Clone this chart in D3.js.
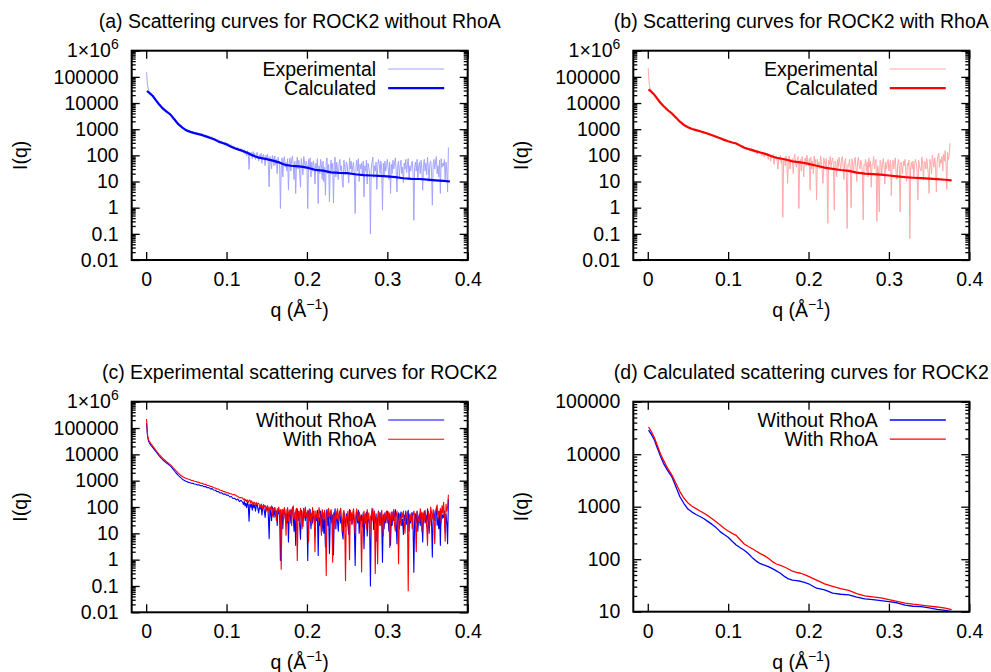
<!DOCTYPE html>
<html>
<head>
<meta charset="utf-8">
<script src="https://cdn.jsdelivr.net/npm/d3@7"></script>
<style>
  body { margin: 0; background: #fff; }
  svg text { font-family: "Liberation Sans", Arial, Helvetica, sans-serif; fill: #000; }
</style>
</head>
<body>
<svg id="chart" width="991" height="672"></svg>
<script>
// ---------------------------------------------------------------------------
// Data

// q grid of the measured curves (1/Angstrom)
const qExp = [
  0.0005, 0.0010, 0.0015, 0.0020, 0.0030, 0.0040, 0.0060, 0.0080, 0.0100, 0.0130,
  0.0160, 0.0190, 0.0220, 0.0250, 0.0280, 0.0310, 0.0340, 0.0370, 0.0400, 0.0430,
  0.0460,
  0.050, 0.052, 0.054, 0.056, 0.058, 0.060, 0.062, 0.064, 0.066, 0.068,
  0.070, 0.072, 0.074, 0.076, 0.078, 0.080, 0.082, 0.084, 0.086, 0.088,
  0.090, 0.092, 0.094, 0.096, 0.098, 0.100, 0.102, 0.104, 0.106, 0.108,
  0.110, 0.112, 0.114, 0.116, 0.118,
  0.120, 0.121, 0.122, 0.123, 0.124, 0.125, 0.126, 0.127, 0.128, 0.129,
  0.130, 0.131, 0.132, 0.133, 0.134, 0.135, 0.136, 0.137, 0.138, 0.139,
  0.140, 0.141, 0.142, 0.143, 0.144, 0.145, 0.146, 0.147, 0.148, 0.149,
  0.150, 0.151, 0.152, 0.153, 0.154, 0.155, 0.156, 0.157, 0.158, 0.159,
  0.160, 0.161, 0.162, 0.163, 0.164, 0.165, 0.166, 0.167, 0.168, 0.169,
  0.170, 0.171, 0.172, 0.173, 0.174, 0.175, 0.176, 0.177, 0.178, 0.179,
  0.180, 0.181, 0.182, 0.183, 0.184, 0.185, 0.186, 0.187, 0.188, 0.189,
  0.190, 0.191, 0.192, 0.193, 0.194, 0.195, 0.196, 0.197, 0.198, 0.199,
  0.200, 0.201, 0.202, 0.203, 0.204, 0.205, 0.206, 0.207, 0.208, 0.209,
  0.210, 0.211, 0.212, 0.213, 0.214, 0.215, 0.216, 0.217, 0.218, 0.219,
  0.220, 0.221, 0.222, 0.223, 0.224, 0.225, 0.226, 0.227, 0.228, 0.229,
  0.230, 0.231, 0.232, 0.233, 0.234, 0.235, 0.236, 0.237, 0.238, 0.239,
  0.240, 0.241, 0.242, 0.243, 0.244, 0.245, 0.246, 0.247, 0.248, 0.249,
  0.250, 0.251, 0.252, 0.253, 0.254, 0.255, 0.256, 0.257, 0.258, 0.259,
  0.260, 0.261, 0.262, 0.263, 0.264, 0.265, 0.266, 0.267, 0.268, 0.269,
  0.270, 0.271, 0.272, 0.273, 0.274, 0.275, 0.276, 0.277, 0.278, 0.279,
  0.280, 0.281, 0.282, 0.283, 0.284, 0.285, 0.286, 0.287, 0.288, 0.289,
  0.290, 0.291, 0.292, 0.293, 0.294, 0.295, 0.296, 0.297, 0.298, 0.299,
  0.300, 0.301, 0.302, 0.303, 0.304, 0.305, 0.306, 0.307, 0.308, 0.309,
  0.310, 0.311, 0.312, 0.313, 0.314, 0.315, 0.316, 0.317, 0.318, 0.319,
  0.320, 0.321, 0.322, 0.323, 0.324, 0.325, 0.326, 0.327, 0.328, 0.329,
  0.330, 0.331, 0.332, 0.333, 0.334, 0.335, 0.336, 0.337, 0.338, 0.339,
  0.340, 0.341, 0.342, 0.343, 0.344, 0.345, 0.346, 0.347, 0.348, 0.349,
  0.350, 0.351, 0.352, 0.353, 0.354, 0.355, 0.356, 0.357, 0.358, 0.359,
  0.360, 0.361, 0.362, 0.363, 0.364, 0.365, 0.366, 0.367, 0.368, 0.369,
  0.370, 0.371, 0.372, 0.373, 0.374, 0.375, 0.376
];

// measured I(q), ROCK2 without RhoA
const iExpWithout = [
  150000, 90000, 57000, 42000, 32000, 27000, 22000, 18500, 15500, 11800,
  9000, 7000, 5700, 4800, 4100, 3400, 2600, 2000, 1600, 1300,
  1080,
  930, 880, 850, 800, 790, 745, 735, 690, 690, 640,
  650, 590, 600, 540, 545, 490, 500, 440, 430, 390,
  385, 340, 345, 305, 315, 280, 285, 240, 250, 210,
  215, 185, 200, 160, 180,
  150, 125, 165, 110, 140, 95, 150, 120, 29, 130,
  100, 130, 75, 140, 95, 120, 70, 110, 130, 85,
  60, 105, 85, 120, 50, 95, 110, 70, 40, 100,
  80, 110, 45, 6.3, 90, 60, 30, 100, 75, 40,
  95, 45, 70, 20, 85, 55, 60, 0.93, 30, 80,
  15, 65, 90, 35, 55, 25, 75, 4.7, 50, 80,
  25, 70, 95, 40, 12, 60, 3.5, 45, 85, 30,
  65, 20, 6, 75, 40, 18, 90, 55, 30, 60,
  45, 0.93, 70, 35, 80, 15, 55, 25, 60, 40,
  8, 50, 30, 75, 1.45, 40, 20, 70, 45, 12,
  60, 10, 35, 3, 55, 80, 20, 45, 1.7, 30,
  65, 25, 50, 1.5, 40, 85, 15, 55, 30, 12,
  50, 70, 25, 40, 10, 6, 65, 35, 18, 55,
  45, 20, 9, 80, 30, 60, 22, 40, 55, 15,
  0.6, 35, 65, 25, 75, 10, 45, 30, 50, 18,
  60, 2.6, 40, 25, 65, 8, 50, 35, 20, 0.1,
  30, 55, 85, 14, 40, 25, 55, 5, 35, 70,
  45, 20, 60, 30, 0.8, 50, 15, 60, 25, 40,
  70, 35, 12, 55, 3.5, 45, 20, 65, 30, 50,
  80, 25, 4, 45, 60, 15, 40, 65, 20, 35,
  9, 50, 30, 70, 22, 45, 75, 12, 40, 25,
  45, 60, 20, 0.33, 35, 55, 25, 70, 12, 40,
  55, 20, 65, 30, 4.7, 45, 70, 25, 50, 18,
  85, 35, 10, 50, 60, 25, 1.25, 45, 70, 30,
  55, 90, 20, 40, 15, 65, 3.5, 75, 35, 50,
  40, 70, 11, 55, 25, 4, 200
];

// measured I(q), ROCK2 with RhoA
const iExpWith = [
  220000, 120000, 70000, 48000, 37000, 31000, 25000, 21000, 17500, 13000,
  10000, 8000, 6500, 5400, 4500, 3800, 3000, 2400, 1950, 1600,
  1380,
  1220, 1150, 1100, 1030, 1010, 950, 930, 870, 860, 800,
  790, 730, 725, 665, 660, 600, 595, 540, 530, 480,
  480, 430, 425, 385, 385, 350, 345, 320, 315, 290,
  300, 265, 255, 225, 230,
  220, 190, 205, 170, 195, 160, 185, 150, 175, 185,
  140, 170, 150, 125, 155, 140, 110, 150, 125, 135,
  140, 110, 95, 130, 115, 85, 125, 100, 115, 95,
  70, 110, 90, 60, 100, 85, 110, 45, 90, 75,
  95, 60, 30, 85, 70, 100, 50, 80, 0.43, 65,
  80, 40, 95, 60, 8.5, 75, 95, 30, 70, 55,
  75, 20, 85, 110, 45, 35, 70, 90, 0.93, 60,
  70, 25, 90, 50, 15, 65, 80, 40, 100, 55,
  40, 75, 4.7, 85, 30, 60, 20, 95, 45, 70,
  2, 70, 40, 55, 30, 95, 60, 25, 8.5, 80,
  55, 35, 75, 25, 0.25, 65, 45, 90, 35, 60,
  80, 40, 0.8, 60, 45, 15, 70, 35, 85, 50,
  30, 65, 90, 40, 12, 55, 75, 25, 0.16, 45,
  40, 70, 30, 1, 75, 45, 22, 60, 85, 35,
  10, 55, 85, 40, 30, 65, 50, 20, 0.34, 45,
  40, 70, 25, 55, 15, 80, 35, 60, 6, 45,
  45, 90, 30, 55, 70, 0.3, 40, 25, 0.7, 65,
  60, 20, 45, 75, 35, 8, 55, 30, 50, 70,
  25, 45, 65, 2.9, 40, 65, 30, 55, 80, 20,
  12, 45, 70, 30, 0.7, 55, 35, 20, 60, 40,
  70, 25, 10, 50, 40, 65, 0.066, 35, 55, 30,
  60, 15, 45, 70, 50, 25, 2, 65, 40, 30,
  25, 85, 45, 12, 60, 55, 30, 75, 40, 20,
  3.5, 70, 45, 20, 100, 60, 35, 80, 40, 4,
  55, 90, 120, 35, 70, 50, 90, 25, 110, 60,
  150, 45, 5, 130, 70, 100, 290
];

// q grid of the model curves
const qCalc = [
  0.001, 0.005, 0.008, 0.012, 0.016, 0.0195, 0.025, 0.030, 0.035, 0.040,
  0.045, 0.050, 0.055, 0.060, 0.065, 0.070, 0.075, 0.080, 0.085, 0.090,
  0.095, 0.100, 0.105, 0.110, 0.115, 0.120, 0.125, 0.130, 0.135, 0.140,
  0.145, 0.150, 0.155, 0.160, 0.165, 0.170, 0.175, 0.180, 0.185, 0.190,
  0.195, 0.200, 0.210, 0.220, 0.230, 0.240, 0.250, 0.260, 0.270, 0.280,
  0.290, 0.300, 0.310, 0.320, 0.330, 0.340, 0.350, 0.360, 0.370, 0.378
];

const iCalcWithout = [
  28800, 23000, 19000, 13000, 9000, 6700, 4800, 3700, 2400, 1550,
  1150, 900, 790, 710, 650, 590, 520, 460, 400, 335,
  295, 262, 220, 187, 165, 148, 128, 107, 92, 82,
  77, 72, 66, 60, 54, 47, 42, 40, 39, 38,
  36, 34, 28, 26, 22.5, 21.5, 21, 19, 17.5, 17,
  16.3, 15.6, 14.8, 13.3, 12.7, 12.5, 11.8, 11.1, 10.6, 10
];

const iCalcWith = [
  33000, 26000, 21000, 14500, 10000, 7700, 5300, 4000, 2800, 1940,
  1450, 1180, 1020, 920, 830, 750, 670, 590, 515, 450,
  390, 345, 310, 285, 235, 195, 175, 158, 142, 128,
  117, 104, 90, 81, 76, 71, 65, 59, 56, 54,
  51, 47, 40, 34, 30.5, 27.5, 25.5, 22, 20, 19.2,
  18.4, 17, 15.8, 14.6, 13.9, 13.4, 12.8, 12.3, 11.7, 11
];

// axis ticks and texts
const xTicks = [0, 0.1, 0.2, 0.3, 0.4];
const yTicksWide = [0.01, 0.1, 1, 10, 100, 1000, 10000, 100000, 1000000];
const yLabelsWide = ['0.01', '0.1', '1', '10', '100', '1000', '10000', '100000', '1×10^6'];
const yTicksCalc = [10, 100, 1000, 10000, 100000];
const yLabelsCalc = ['10', '100', '1000', '10000', '100000'];

const titles = [
  '(a) Scattering curves for ROCK2 without RhoA',
  '(b) Scattering curves for ROCK2 with RhoA',
  '(c) Experimental scattering curves for ROCK2',
  '(d) Calculated scattering curves for ROCK2'
];
const legendFit = ['Experimental', 'Calculated'];
const legendCompare = ['Without RhoA', 'With RhoA'];

// ---------------------------------------------------------------------------
// Layout

const svg = d3.select('#chart');
const FONT = 19.5;
const SUP = 14;
const xDomain = [-0.018, 0.4];

const panels = [
  {
    left: 131.7, right: 467.7, top: 50.7, bottom: 260,
    yDomain: [0.01, 1e6], yTicks: yTicksWide, yLabels: yLabelsWide, title: titles[0],
    series: [
      {q: qExp, v: iExpWithout, color: '#a3a3ff', width: 1, name: legendFit[0]},
      {q: qCalc, v: iCalcWithout, color: '#0000ff', width: 2.2, name: legendFit[1]}
    ]
  },
  {
    left: 633.3, right: 969.3, top: 50.7, bottom: 260,
    yDomain: [0.01, 1e6], yTicks: yTicksWide, yLabels: yLabelsWide, title: titles[1],
    series: [
      {q: qExp, v: iExpWith, color: '#ffa8a8', width: 1, name: legendFit[0]},
      {q: qCalc, v: iCalcWith, color: '#ff0000', width: 2.2, name: legendFit[1]}
    ]
  },
  {
    left: 131.7, right: 467.7, top: 401.7, bottom: 612.3,
    yDomain: [0.01, 1e6], yTicks: yTicksWide, yLabels: yLabelsWide, title: titles[2],
    series: [
      {q: qExp, v: iExpWithout, color: '#0000ff', width: 1.1, name: legendCompare[0]},
      {q: qExp, v: iExpWith, color: '#ff0000', width: 1.1, name: legendCompare[1]}
    ]
  },
  {
    left: 633.3, right: 969.3, top: 401.7, bottom: 611.7,
    yDomain: [10, 1e5], yTicks: yTicksCalc, yLabels: yLabelsCalc, title: titles[3],
    series: [
      {q: qCalc, v: iCalcWithout, color: '#0000ff', width: 1.3, name: legendCompare[0]},
      {q: qCalc, v: iCalcWith, color: '#ff0000', width: 1.3, name: legendCompare[1]}
    ]
  }
];

// ---------------------------------------------------------------------------
// Drawing

function styleAxis(sel) {
  sel.attr('font-size', FONT).attr('font-family', null);
  sel.select('.domain').remove();
  sel.selectAll('line').attr('stroke-width', 1.3);
}

function drawPanel(p, idx) {
  const x = d3.scaleLinear().domain(xDomain).range([p.left, p.right]);
  const y = d3.scaleLog().domain(p.yDomain).range([p.bottom, p.top]);
  const g = svg.append('g');

  const clipId = 'clip' + idx;
  g.append('clipPath').attr('id', clipId)
    .append('rect')
    .attr('x', p.left).attr('y', p.top)
    .attr('width', p.right - p.left).attr('height', p.bottom - p.top);

  // minor ticks 2..9 inside every decade
  const minor = [];
  p.yTicks.slice(0, -1).forEach(t => {
    for (let m = 2; m < 10; m++) minor.push(t * m);
  });

  // left axis with labels
  const left = g.append('g')
    .attr('transform', `translate(${p.left},0)`)
    .call(d3.axisLeft(y).tickValues(p.yTicks).tickSize(-8).tickPadding(13)
      .tickFormat(d => p.yLabels[p.yTicks.indexOf(d)]));
  styleAxis(left);
  left.selectAll('text').each(function(d) {
    const lab = p.yLabels[p.yTicks.indexOf(d)];
    if (lab.indexOf('^') < 0) return;
    const parts = lab.split('^');
    const t = d3.select(this).text(parts[0]);
    t.append('tspan').attr('font-size', SUP).attr('dy', -8).text(parts[1]);
  });

  g.append('g').attr('transform', `translate(${p.left},0)`)
    .call(d3.axisLeft(y).tickValues(minor).tickSize(-4).tickFormat(''))
    .call(styleAxis);
  g.append('g').attr('transform', `translate(${p.right},0)`)
    .call(d3.axisRight(y).tickValues(p.yTicks).tickSize(-8).tickFormat(''))
    .call(styleAxis);
  g.append('g').attr('transform', `translate(${p.right},0)`)
    .call(d3.axisRight(y).tickValues(minor).tickSize(-4).tickFormat(''))
    .call(styleAxis);

  // bottom / top axes
  g.append('g').attr('transform', `translate(0,${p.bottom})`)
    .call(d3.axisBottom(x).tickValues(xTicks).tickSize(-8).tickPadding(12)
      .tickFormat(d => String(d)))
    .call(styleAxis);
  g.append('g').attr('transform', `translate(0,${p.top})`)
    .call(d3.axisTop(x).tickValues(xTicks).tickSize(-8).tickFormat(''))
    .call(styleAxis);

  // curves
  const line = d3.line().x(d => x(d[0])).y(d => y(d[1]));
  const plot = g.append('g').attr('clip-path', `url(#${clipId})`);
  p.series.forEach(s => {
    const pts = s.q.map((q, i) => [q, s.v[i]]).filter(d => d[1] != null);
    plot.append('path')
      .datum(pts)
      .attr('d', line)
      .attr('fill', 'none')
      .attr('stroke', s.color)
      .attr('stroke-width', s.width)
      .attr('stroke-linejoin', 'round');
  });

  // frame
  g.append('rect')
    .attr('x', p.left).attr('y', p.top)
    .attr('width', p.right - p.left).attr('height', p.bottom - p.top)
    .attr('fill', 'none').attr('stroke', '#000').attr('stroke-width', 2);

  // legend
  p.series.forEach((s, i) => {
    const ly = p.top + 18.3 + i * 19.2;
    g.append('text')
      .attr('x', p.right - 91.5).attr('y', ly).attr('dy', '0.35em')
      .attr('text-anchor', 'end').attr('font-size', FONT)
      .text(s.name);
    g.append('line')
      .attr('x1', p.right - 79.5).attr('x2', p.right - 23.5)
      .attr('y1', ly).attr('y2', ly)
      .attr('stroke', s.color).attr('stroke-width', s.width);
  });

  // title
  g.append('text')
    .attr('x', (p.left + p.right) / 2).attr('y', p.top - 22.6)
    .attr('text-anchor', 'middle').attr('font-size', FONT)
    .text(p.title);

  // y label
  g.append('text')
    .attr('transform', `translate(${p.left - 111.7},${(p.top + p.bottom) / 2}) rotate(-90)`)
    .attr('dy', '0.35em')
    .attr('text-anchor', 'middle').attr('font-size', FONT)
    .text('I(q)');

  // x label  q (Å^-1)
  const xl = g.append('text')
    .attr('x', (p.left + p.right) / 2).attr('y', p.bottom + 57)
    .attr('text-anchor', 'middle').attr('font-size', FONT);
  xl.append('tspan').text('q (Å');
  xl.append('tspan').attr('font-size', SUP).attr('dy', -8).text('−1');
  xl.append('tspan').attr('dy', 8).text(')');
}

panels.forEach(drawPanel);
</script>
</body>
</html>
